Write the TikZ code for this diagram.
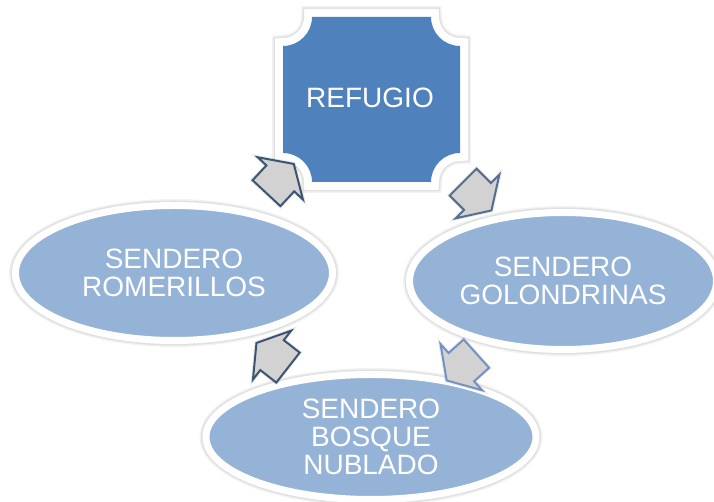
\documentclass[tikz,border=0pt]{standalone}
\usepackage{fontspec}
\setmainfont{Liberation Sans}
\usetikzlibrary{shapes.geometric,shapes.arrows}
\definecolor{refblue}{HTML}{4F81BD}
\definecolor{ellblue}{HTML}{95B3D7}
\definecolor{arrfill}{HTML}{D2D2D2}
\definecolor{arrdark}{HTML}{3E5571}
\definecolor{arrmid}{HTML}{566E90}
\definecolor{arrlight}{HTML}{7392C2}
\begin{document}
\begin{tikzpicture}[x=1pt,y=1pt,
  lbl/.style={text=white, font=\fontsize{28}{28}\selectfont, align=center},
  halo/.style={preaction={draw=black, opacity=0.05, line width=#1+6pt},
               preaction={draw=black, opacity=0.07, line width=#1+3pt}},
  trail/.style={ellipse, lbl, inner sep=0pt, fill=ellblue, draw=white, line width=7pt, halo=7pt},
  plaque/.style={fill=refblue, halo=16pt, preaction={draw=white, line width=16pt}},
  cyc/.style={single arrow, fill=arrfill, draw=#1, line width=2pt, line join=miter,
              minimum height=40pt, inner xsep=0pt, inner ysep=18pt,
              single arrow head extend=12pt, single arrow tip angle=115,
              preaction={draw=black, opacity=0.08, line width=4pt}},
]
\useasboundingbox (0,0) rectangle (714,502);
\fill[white] (0,0) rectangle (714,502);

% Refugio plaque
\path[plaque] (312,485) -- (431,485) arc[start angle=180,end angle=270,radius=29]
  -- (460,349) arc[start angle=90,end angle=180,radius=29]
  -- (312,320) arc[start angle=0,end angle=90,radius=29]
  -- (283,456) arc[start angle=-90,end angle=0,radius=29] -- cycle;
\node[lbl] (refugio) at (370,404) {REFUGIO};

% trails
\node[trail, minimum width=317pt, minimum height=135pt] (romerillos) at (174,229) {SENDERO\\ROMERILLOS};
\node[trail, minimum width=307pt, minimum height=137pt] (golondrinas) at (563,221) {SENDERO\\GOLONDRINAS};
\node[trail, minimum width=330pt, minimum height=125pt] (bosque) at (371,65) {SENDERO\\BOSQUE\\NUBLADO};

% cycle arrows
\node[cyc=arrmid, rotate=-45] (arrRG) at (473,310) {};
\node[cyc=arrlight, rotate=222] (arrGB) at (466,139) {};
\node[cyc=arrdark, rotate=142] (arrBR) at (277,143) {};
\node[cyc=arrdark, rotate=47] (arrRR) at (276,319) {};
\end{tikzpicture}
\end{document}
